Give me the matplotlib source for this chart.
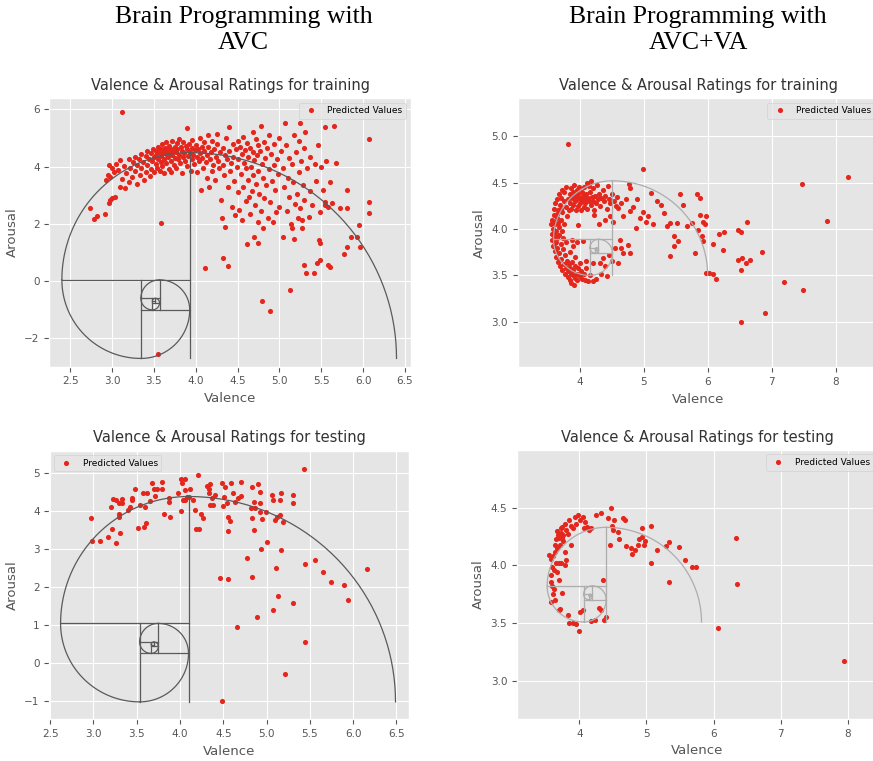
import matplotlib.pyplot as plt
import numpy as np

plt.style.use('ggplot')

# (valence, arousal) predicted values
avc_train = [
    (2.74, 2.54), (2.78, 2.16), (2.82, 2.28), (2.91, 2.35), (2.96, 2.72), (2.98, 2.84), (3.00, 2.89),
    (3.04, 2.95), (3.12, 5.90), (3.58, 2.04), (3.55, -2.57),
    (2.93, 3.55), (2.95, 3.72), (2.96, 4.06), (2.98, 3.63), (3.00, 3.95), (3.02, 3.82), (3.05, 4.10),
    (3.07, 3.88), (3.10, 4.22), (3.10, 3.30), (3.12, 3.58), (3.14, 4.02), (3.15, 3.24), (3.17, 3.78),
    (3.20, 4.26), (3.20, 3.45), (3.22, 3.95), (3.24, 3.62), (3.25, 4.15),
    (3.27, 4.35), (3.28, 3.85), (3.30, 4.05), (3.30, 3.40), (3.32, 4.28), (3.33, 3.70), (3.35, 4.45),
    (3.35, 3.95), (3.37, 4.15), (3.38, 3.55), (3.40, 4.38), (3.40, 3.82), (3.42, 4.55), (3.42, 4.05),
    (3.44, 4.25), (3.45, 3.68), (3.46, 4.48), (3.47, 3.92), (3.48, 4.18), (3.49, 4.62), (3.50, 4.35),
    (3.50, 3.80),
    (3.52, 4.55), (3.52, 4.10), (3.53, 4.40), (3.54, 3.95), (3.55, 4.70), (3.55, 4.25), (3.56, 4.50),
    (3.57, 3.85), (3.58, 4.62), (3.58, 4.15), (3.59, 4.38), (3.60, 4.78), (3.60, 4.02), (3.61, 4.52),
    (3.62, 4.28), (3.62, 3.78), (3.63, 4.65), (3.64, 4.45), (3.65, 4.12), (3.65, 4.85), (3.66, 4.58),
    (3.67, 4.35), (3.68, 3.92), (3.68, 4.72), (3.69, 4.48), (3.70, 4.20), (3.70, 4.62), (3.71, 3.80),
    (3.72, 4.40), (3.72, 4.88), (3.73, 4.55), (3.74, 4.05), (3.75, 4.70), (3.75, 4.30),
    (3.76, 4.50), (3.77, 3.95), (3.78, 4.82), (3.78, 4.62), (3.79, 4.25), (3.80, 4.40), (3.80, 4.95),
    (3.81, 4.12), (3.82, 4.68), (3.83, 4.55), (3.84, 3.78), (3.85, 4.32), (3.85, 4.85), (3.86, 4.47),
    (3.87, 4.18), (3.88, 4.72), (3.89, 4.60), (3.90, 4.02), (3.90, 5.35), (3.91, 4.38), (3.92, 4.80),
    (3.93, 4.52), (3.94, 3.85), (3.95, 4.25), (3.95, 4.65), (3.96, 4.92), (3.97, 4.42), (3.98, 4.10),
    (3.99, 4.58), (4.00, 4.75),
    (4.01, 4.35), (4.02, 3.80), (4.03, 4.60), (4.04, 4.20), (4.05, 5.00), (4.05, 4.48), (4.06, 3.20),
    (4.07, 4.70), (4.08, 4.30), (4.09, 3.95), (4.10, 4.55), (4.10, 4.85), (4.11, 0.47), (4.12, 4.15),
    (4.13, 3.60), (4.14, 4.40), (4.15, 5.10), (4.15, 4.68), (4.16, 3.30), (4.17, 4.25), (4.18, 4.52),
    (4.19, 3.85), (4.20, 4.90), (4.21, 4.05), (4.22, 4.62), (4.23, 3.55), (4.24, 4.35), (4.25, 5.15),
    (4.26, 4.78), (4.27, 4.20), (4.28, 3.95), (4.29, 4.50), (4.30, 2.85), (4.31, 2.22), (4.32, 0.82),
    (4.32, 4.65), (4.33, 4.05), (4.34, 3.70), (4.35, 1.90), (4.35, 4.40), (4.36, 5.00), (4.37, 4.28),
    (4.38, 3.30), (4.39, 0.53), (4.40, 5.37), (4.40, 4.55), (4.41, 3.85), (4.42, 4.12), (4.43, 2.60),
    (4.44, 4.80), (4.45, 4.35), (4.46, 3.50), (4.47, 2.30), (4.48, 4.62), (4.49, 4.00), (4.50, 3.10),
    (4.50, 4.90),
    (4.51, 4.25), (4.52, 2.50), (4.53, 4.70), (4.54, 3.75), (4.55, 4.45), (4.55, 2.15), (4.56, 5.05),
    (4.57, 3.30), (4.58, 4.12), (4.59, 4.58), (4.60, 2.80), (4.60, 3.95), (4.61, 1.28), (4.61, 4.82),
    (4.62, 3.55), (4.63, 4.35), (4.64, 2.95), (4.65, 4.65), (4.65, 2.35), (4.66, 4.00), (4.67, 3.15),
    (4.68, 4.50), (4.68, 5.20), (4.69, 3.70), (4.70, 1.55), (4.70, 4.22), (4.71, 2.65), (4.72, 4.95),
    (4.72, 3.40), (4.73, 4.40), (4.74, 1.32), (4.74, 2.05), (4.75, 3.85), (4.75, 4.75),
    (4.76, 3.05), (4.77, 4.55), (4.78, 2.45), (4.78, 5.42), (4.79, -0.70), (4.79, 4.10), (4.80, 3.60),
    (4.80, 1.85), (4.81, 4.85), (4.82, 2.90), (4.83, 4.30), (4.84, 3.35), (4.85, 4.65), (4.86, 2.20),
    (4.87, 3.90), (4.88, 5.10), (4.89, -1.05), (4.89, 2.75), (4.90, 4.45), (4.91, 3.50), (4.92, 2.05),
    (4.93, 4.05), (4.94, 4.80), (4.95, 3.20), (4.96, 2.40), (4.97, 4.25), (4.98, 3.75), (4.99, 5.00),
    (5.00, 2.60),
    (5.02, 4.55), (5.04, 1.55), (5.04, 3.95), (5.06, 3.30), (5.07, 5.52), (5.08, 4.75), (5.09, 2.45),
    (5.10, 3.60), (5.11, 4.30), (5.12, 2.95), (5.13, -0.32), (5.14, 2.00), (5.15, 1.84), (5.15, 4.10),
    (5.16, 3.45), (5.17, 1.46), (5.18, 5.10), (5.19, 2.70), (5.20, 4.50), (5.21, 3.05), (5.22, 2.20),
    (5.23, 3.80), (5.24, 4.90), (5.25, 5.52), (5.25, 2.55), (5.26, 4.20), (5.27, 2.14), (5.27, 1.84),
    (5.28, 3.35), (5.29, 0.57), (5.29, 4.65), (5.30, 2.85),
    (5.31, 5.20), (5.32, 0.29), (5.33, 3.95), (5.35, 2.25), (5.36, 4.35), (5.37, 3.15), (5.39, 2.65),
    (5.41, 0.27), (5.42, 4.10), (5.44, 3.50), (5.45, 0.62), (5.46, 4.75), (5.47, 1.44), (5.48, 2.40),
    (5.49, 0.74), (5.49, 1.32), (5.50, 4.00), (5.52, 3.20), (5.54, 2.75), (5.55, 5.40), (5.55, 2.66),
    (5.56, 4.20), (5.58, 0.56), (5.58, 2.60), (5.61, 0.50), (5.61, 3.48), (5.63, 2.72), (5.65, 5.43),
    (5.68, 4.12), (5.73, 2.54), (5.77, 0.95), (5.81, 1.20), (5.81, 2.54), (5.81, 3.19), (5.85, 1.55),
    (5.93, 1.55), (5.95, 1.96), (5.96, 1.20), (6.07, 4.96), (6.07, 2.78), (6.07, 2.37),
]

avcva_train = [
    (3.55, 4.05), (3.56, 3.95), (3.57, 4.10), (3.57, 3.88), (3.58, 4.00), (3.58, 3.82), (3.59, 4.15),
    (3.60, 3.92), (3.60, 4.22), (3.61, 3.76), (3.61, 4.05), (3.62, 3.85), (3.62, 4.28), (3.63, 3.98),
    (3.63, 3.70), (3.64, 4.12), (3.64, 4.32), (3.65, 3.80), (3.65, 3.90), (3.66, 4.20), (3.66, 3.65),
    (3.67, 4.02), (3.67, 4.38), (3.68, 3.74), (3.68, 3.94), (3.69, 4.26), (3.69, 3.60), (3.70, 4.10),
    (3.70, 3.84), (3.71, 4.34), (3.71, 3.68), (3.72, 3.98), (3.72, 4.42), (3.73, 3.56), (3.73, 4.18),
    (3.74, 3.78), (3.74, 3.90), (3.75, 4.30), (3.75, 3.62), (3.76, 4.05), (3.76, 4.40), (3.77, 3.52),
    (3.77, 3.72), (3.78, 4.24), (3.78, 3.86), (3.79, 3.58), (3.79, 4.45), (3.80, 4.14), (3.80, 3.66),
    (3.59, 4.08), (3.61, 3.96), (3.63, 3.86), (3.65, 4.16), (3.66, 4.06), (3.68, 3.66), (3.70, 4.22),
    (3.81, 4.32), (3.82, 4.92), (3.83, 4.20), (3.84, 4.38), (3.85, 4.28), (3.86, 4.44), (3.87, 4.22),
    (3.88, 4.34), (3.89, 4.40), (3.90, 4.26), (3.91, 4.47), (3.92, 4.30), (3.93, 4.36), (3.94, 4.20),
    (3.95, 4.42), (3.96, 4.32), (3.97, 4.25), (3.98, 4.38), (3.99, 4.45), (4.00, 4.28), (4.01, 4.34),
    (4.02, 4.20), (4.03, 4.40), (4.04, 4.30), (4.05, 4.36), (4.06, 4.24), (4.07, 4.45), (4.08, 4.32),
    (4.09, 4.28), (4.10, 4.38), (4.11, 4.50), (4.12, 4.22), (4.13, 4.34), (4.14, 4.46), (4.15, 4.30),
    (4.16, 4.40), (4.17, 4.26), (4.18, 4.52), (4.19, 4.35), (4.20, 4.30), (4.21, 4.44), (4.22, 4.20),
    (4.24, 4.36), (4.26, 4.28), (4.27, 4.48), (4.29, 4.32), (4.30, 4.38), (4.32, 4.25), (4.34, 4.34),
    (4.36, 4.42), (4.38, 4.30), (4.40, 4.36), (4.42, 4.22), (4.44, 4.46), (4.46, 4.32), (4.48, 4.28),
    (4.50, 4.38), (4.53, 4.30), (4.56, 4.25), (4.58, 4.35),
    (3.81, 3.55), (3.82, 3.48), (3.83, 3.62), (3.84, 3.45), (3.85, 3.58), (3.86, 3.52), (3.87, 3.42),
    (3.88, 3.64), (3.89, 3.50), (3.90, 3.56), (3.91, 3.40), (3.92, 3.47), (3.93, 3.60), (3.95, 3.52),
    (3.96, 3.45), (3.98, 3.58), (4.00, 3.49), (4.02, 3.55), (4.04, 3.46), (4.06, 3.52), (4.08, 3.45),
    (4.10, 3.58), (4.13, 3.44), (4.16, 3.50), (4.21, 3.44), (4.26, 3.46), (4.34, 3.51), (4.42, 3.49),
    (3.85, 3.75), (3.88, 3.88), (3.90, 3.82), (3.92, 3.70), (3.95, 3.86), (3.97, 4.04), (4.00, 3.63),
    (4.05, 3.87), (4.10, 3.66), (4.21, 3.63), (4.31, 3.63), (4.37, 3.69), (4.40, 3.60), (4.45, 3.72),
    (4.50, 3.66), (4.55, 3.80), (4.60, 3.63), (4.63, 3.88), (4.65, 3.80), (4.68, 3.74), (4.76, 3.83),
    (4.78, 3.74), (4.22, 4.15), (4.30, 4.05), (4.40, 4.10), (4.48, 4.14), (4.52, 4.08),
    (4.60, 4.23), (4.64, 4.28), (4.68, 4.14), (4.73, 4.32), (4.77, 4.49), (4.78, 4.44), (4.78, 4.19),
    (4.84, 4.24), (4.88, 4.01), (4.89, 4.32), (4.94, 4.12), (4.99, 4.18), (4.99, 4.65), (5.03, 4.08),
    (5.07, 4.14), (5.12, 4.39), (5.15, 4.05), (5.20, 4.30), (5.27, 4.26), (5.31, 4.17), (5.36, 4.03),
    (5.41, 4.07), (5.41, 3.71), (5.47, 3.82), (5.47, 3.92), (5.52, 4.06), (5.54, 3.87), (5.56, 4.38),
    (5.62, 4.26), (5.68, 4.03), (5.75, 4.06), (5.80, 3.74), (5.83, 4.38), (5.85, 3.99), (5.88, 4.33),
    (5.88, 4.15), (5.91, 3.92), (5.93, 4.08), (5.93, 3.87), (5.96, 4.05), (5.98, 4.14), (5.97, 3.53),
    (6.02, 3.53), (6.08, 3.51), (6.13, 3.46), (6.09, 3.84), (6.17, 3.95), (6.26, 3.97), (6.24, 3.77),
    (6.48, 3.99), (6.52, 3.97), (6.61, 4.08), (6.48, 3.67), (6.52, 3.56), (6.53, 3.69), (6.60, 3.63),
    (6.66, 3.67), (6.85, 3.75), (7.19, 3.43), (7.49, 3.34), (6.90, 3.09), (6.52, 3.00), (7.47, 4.49),
    (8.20, 4.56), (7.86, 4.09),
]

avc_test = [
    (2.97, 3.83), (2.98, 3.21), (3.08, 3.21), (3.17, 3.31), (3.20, 4.10), (3.21, 3.52), (3.22, 4.32),
    (3.26, 3.17), (3.26, 4.30), (3.29, 3.84), (3.29, 4.21), (3.30, 3.94), (3.31, 3.43), (3.33, 4.32),
    (3.33, 4.21), (3.40, 4.03), (3.42, 4.10), (3.44, 4.30), (3.45, 4.36), (3.48, 4.58), (3.52, 3.55),
    (3.54, 4.16), (3.57, 4.47), (3.58, 3.59), (3.60, 4.10), (3.61, 3.68), (3.62, 4.49), (3.65, 4.28),
    (3.68, 4.75), (3.70, 4.58), (3.71, 4.40), (3.73, 4.60), (3.79, 4.78), (3.79, 4.60), (3.81, 3.94),
    (3.87, 4.34), (3.87, 4.25), (3.89, 3.86), (3.98, 4.49), (4.01, 4.01), (4.01, 4.84), (4.02, 4.74),
    (4.03, 4.30), (4.06, 4.56), (4.06, 4.30), (4.06, 4.84), (4.08, 4.38), (4.10, 4.37), (4.12, 4.60),
    (4.15, 4.30), (4.17, 4.03), (4.19, 3.52), (4.21, 4.96), (4.22, 3.54), (4.24, 3.94), (4.26, 3.81),
    (4.31, 4.67), (4.33, 4.49), (4.34, 4.58), (4.35, 4.72), (4.35, 4.16), (4.37, 4.34), (4.38, 4.16),
    (4.40, 4.43), (4.46, 2.23), (4.49, 4.75), (4.50, 4.14), (4.51, 4.37), (4.52, 4.65), (4.54, 4.21),
    (4.55, 3.86), (4.56, 3.49), (4.56, 2.20), (4.58, 3.75), (4.59, 4.74), (4.61, 4.47), (4.63, 4.25),
    (4.66, 0.95), (4.67, 4.34), (4.70, 4.78), (4.71, 4.40), (4.77, 2.76), (4.82, 4.08), (4.83, 4.65),
    (4.83, 3.81), (4.83, 2.27), (4.85, 3.50), (4.85, 4.25), (4.87, 4.08), (4.89, 1.21), (4.90, 4.72),
    (4.92, 3.99), (4.93, 4.52), (4.93, 4.22), (4.94, 3.00), (4.95, 3.79), (4.99, 3.99), (5.01, 3.20),
    (5.06, 4.43), (5.07, 1.39), (5.08, 4.30), (5.10, 3.77), (5.11, 2.49), (5.12, 3.86), (5.13, 1.76),
    (5.15, 4.30), (5.15, 3.90), (5.17, 4.49), (5.17, 2.98), (5.19, 3.72), (5.21, -0.30), (5.30, 1.58),
    (5.31, 4.43), (5.31, 4.22), (4.48, -1.00), (5.43, 5.11), (5.44, 2.62), (5.45, 0.55), (5.56, 2.71),
    (5.65, 2.39), (5.74, 2.14), (5.89, 2.05), (5.94, 1.65), (6.16, 2.47),
]

avcva_test = [
    (3.55, 4.09), (3.58, 4.06), (3.59, 3.99), (3.57, 3.92), (3.58, 3.86), (3.59, 3.82), (3.60, 3.75),
    (3.58, 3.68), (3.63, 3.70), (3.61, 4.08), (3.63, 4.12), (3.64, 4.18), (3.65, 4.23), (3.68, 4.26),
    (3.70, 4.24), (3.71, 4.18), (3.73, 4.32), (3.74, 4.33), (3.75, 4.26), (3.76, 4.21), (3.69, 4.02),
    (3.70, 3.87), (3.74, 3.76), (3.71, 3.62), (3.69, 3.61), (3.78, 4.12), (3.80, 4.31), (3.83, 4.27),
    (3.79, 4.36), (3.85, 4.39), (3.88, 4.34), (3.90, 4.32), (3.94, 4.42), (3.95, 4.36), (3.98, 4.44),
    (4.01, 4.39), (4.05, 4.42), (4.07, 4.32), (4.09, 4.38), (4.12, 4.33), (4.15, 4.31), (4.17, 4.32),
    (3.87, 4.18), (3.80, 4.05), (3.78, 4.00), (3.65, 4.02), (3.62, 3.96), (3.66, 3.94), (3.72, 4.02),
    (3.67, 4.15), (3.74, 4.24), (3.72, 4.28), (3.66, 4.30), (3.62, 3.80),
    (3.83, 3.57), (3.84, 3.50), (3.90, 3.50), (3.95, 3.49), (4.00, 3.43), (4.01, 3.60), (4.06, 3.61),
    (4.17, 3.52), (4.24, 3.53), (4.29, 3.63), (4.32, 3.61), (4.35, 3.87), (4.37, 3.53), (4.40, 3.55),
    (4.25, 4.44), (4.32, 4.45), (4.42, 4.41), (4.47, 4.50), (4.45, 4.18), (4.49, 4.34), (4.50, 4.31),
    (4.52, 4.39), (4.57, 4.29), (4.59, 4.23), (4.65, 4.41), (4.68, 4.39), (4.69, 4.17), (4.77, 4.15),
    (4.79, 4.10), (4.83, 4.13), (4.87, 4.18), (4.89, 4.23), (4.93, 4.32), (4.94, 4.25), (4.97, 4.18),
    (4.98, 4.21), (5.07, 4.02), (5.07, 4.34), (5.15, 4.13), (5.29, 4.17), (5.33, 4.20), (5.33, 3.86),
    (5.49, 4.16), (5.58, 4.05), (5.68, 3.99), (5.74, 3.99), (6.07, 3.46), (6.33, 4.24), (6.35, 3.84),
    (7.94, 3.17),
]

panels = [
    (avc_train, 'Valence & Arousal Ratings for training', (2.25, 6.57), (-3.0, 6.39),
     [2.5, 3.0, 3.5, 4.0, 4.5, 5.0, 5.5, 6.0, 6.5], [-2, 0, 2, 4, 6], (2.40, 6.40, -2.71, 4.49), 'upper right'),
    (avcva_train, 'Valence & Arousal Ratings for training', (3.03, 8.68), (2.51, 5.41),
     [4, 5, 6, 7, 8], [3.0, 3.5, 4.0, 4.5, 5.0], (3.59, 6.00, 3.50, 4.52), 'upper right'),
    (avc_test, 'Valence & Arousal Ratings for testing', (2.49, 6.65), (-1.49, 5.60),
     [2.5, 3.0, 3.5, 4.0, 4.5, 5.0, 5.5, 6.0, 6.5], [-1, 0, 1, 2, 3, 4, 5], (2.62, 6.49, -1.03, 4.39), 'upper left'),
    (avcva_test, 'Valence & Arousal Ratings for testing', (3.07, 8.45), (2.67, 5.0),
     [4, 5, 6, 7, 8], [3.0, 3.5, 4.0, 4.5], (3.52, 5.82, 3.51, 4.33), 'upper right'),
]
spiral_colors = ['#5a5a5a', '#adadad', '#5a5a5a', '#adadad']


def golden_spiral(ax, box, color, n=10):
    # fibonacci spiral of quarter arcs + square dividers, stretched into box
    x0, x1, y0, y1 = box
    phi = (1 + 5 ** 0.5) / 2
    sx = (x1 - x0) / phi
    sy = y1 - y0
    a, b, c, d = 0.0, 0.0, phi, 1.0
    for k in range(n):
        side = k % 4
        if side == 0:
            s = d - b
            cx, cy, t0 = c - s, b, 0
            lx, ly = [c - s, c - s], [b, d]
            c = c - s
        elif side == 1:
            s = c - a
            cx, cy, t0 = c, d - s, 90
            lx, ly = [a, c], [d - s, d - s]
            d = d - s
        elif side == 2:
            s = d - b
            cx, cy, t0 = a + s, d, 180
            lx, ly = [a + s, a + s], [b, d]
            a = a + s
        else:
            s = c - a
            cx, cy, t0 = a, b + s, 270
            lx, ly = [a, c], [b + s, b + s]
            b = b + s
        t = np.radians(np.linspace(t0, t0 + 90, 40))
        ax.plot(x0 + (cx + s * np.cos(t)) * sx, y0 + (cy + s * np.sin(t)) * sy, color=color, lw=0.9, zorder=3)
        ax.plot(x0 + np.array(lx) * sx, y0 + np.array(ly) * sy, color=color, lw=0.9, zorder=3)


fig = plt.figure(figsize=(8.73, 7.61), dpi=100)
positions = [[0.0565, 0.5181, 0.414, 0.3527], [0.593, 0.5174, 0.414, 0.3535],
             [0.0565, 0.0548, 0.4124, 0.353], [0.5922, 0.0552, 0.4135, 0.3535]]

for i, (pts, title, xl, yl, xt, yt, box, loc) in enumerate(panels):
    ax = fig.add_axes(positions[i])
    v, a = zip(*pts)
    ax.plot(v, a, 'o', color='#e5261c', ms=3.7, mew=0, ls='', label='Predicted Values', zorder=2)
    golden_spiral(ax, box, spiral_colors[i])
    ax.set_xlim(xl)
    ax.set_ylim(yl)
    ax.set_xticks(xt)
    ax.set_yticks(yt)
    ax.tick_params(labelsize=7.5)
    ax.set_title(title, fontsize=10.5, color='#333333')
    ax.set_xlabel('Valence', fontsize=9.5)
    ax.set_ylabel('Arousal', fontsize=9.5)
    ax.legend(loc=loc, fontsize=6.5)

fig.text(0.279, 0.992, 'Brain Programming with\nAVC', ha='center', va='top', fontsize=18.5,
         family='Liberation Serif', linespacing=1.25)
fig.text(0.7995, 0.992, 'Brain Programming with\nAVC+VA', ha='center', va='top', fontsize=18.5,
         family='Liberation Serif', linespacing=1.25)

fig.savefig('out.png', dpi=100)
